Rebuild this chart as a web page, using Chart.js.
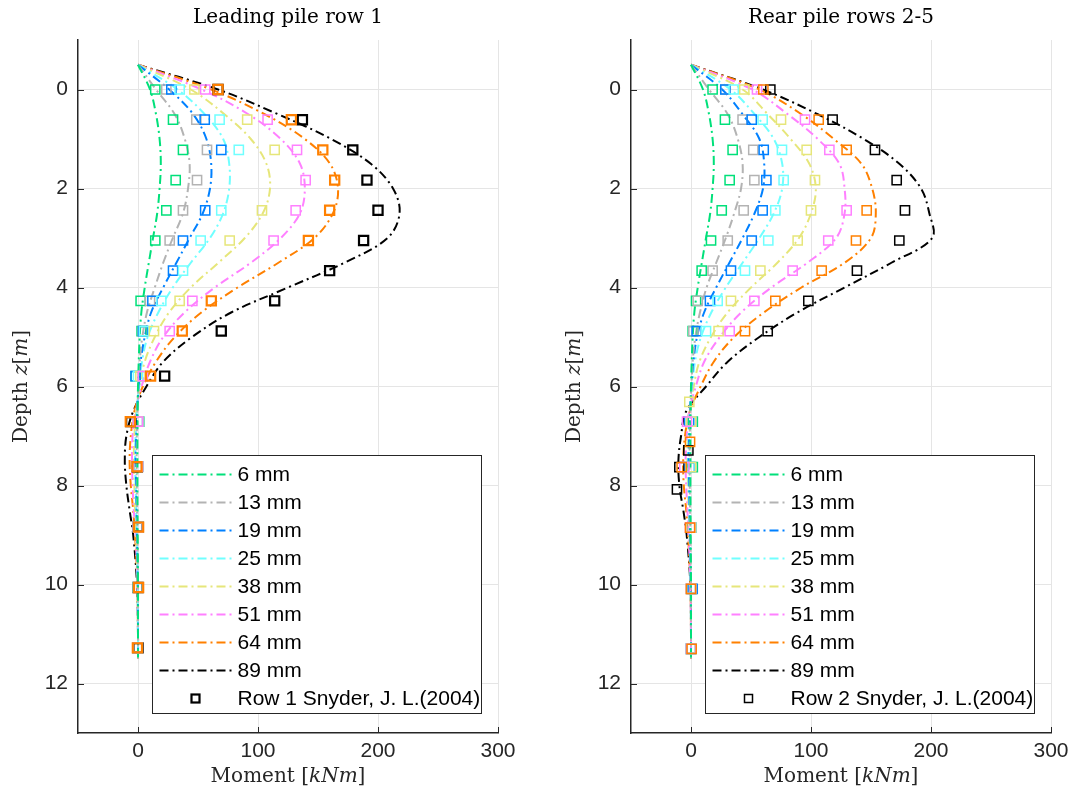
<!DOCTYPE html>
<html>
<head>
<meta charset="utf-8">
<script src="https://cdn.jsdelivr.net/npm/chart.js@4.4.0/dist/chart.umd.min.js"></script>
<style>
  body { margin: 0; background: #fff; width: 1077px; height: 801px; position: relative; overflow: hidden; }
  #leadChart { position: absolute; left: 0; top: 0; }
  #rearChart { position: absolute; left: 553px; top: 0; }
</style>
</head>
<body>
<canvas id="leadChart" width="538" height="801"></canvas>
<canvas id="rearChart" width="524" height="801"></canvas>
<script>
// axis ticks
const xTicks = [0, 100, 200, 300];
const yTicks = [0, 2, 4, 6, 8, 10, 12];

// series names and colours
const sizeLabels = ['6 mm', '13 mm', '19 mm', '25 mm', '38 mm', '51 mm', '64 mm', '89 mm'];
const seriesColors = ['#00e07a', '#b3b3b3', '#0080ff', '#70ffff', '#e6e67a', '#ff80ff', '#ff8000', '#000000'];

// depths (m) of the computed curves
const depthCurve = [-0.5, 0, 0.5, 1, 1.5, 2, 2.5, 3, 3.5, 4, 4.5, 5, 5.5, 6, 6.5, 7, 7.5, 8, 8.5, 9, 10, 11, 11.5];

// leading pile row 1 - computed moment (kNm)
const leadCurve6  = [0, 10, 15, 18, 19, 18, 16, 12.5, 9, 5.6, 2.8, 1.4, 0.6, 0, -0.3, -0.5, -0.5, -0.5, -0.4, -0.3, 0, 0, 0];
const leadCurve13 = [0, 15, 30.6, 39, 43, 41.7, 37.5, 29, 21, 14, 7.5, 3.6, 1.4, 0.3, -0.5, -1, -1.2, -1, -0.8, -0.5, 0, 0, 0];
const leadCurve19 = [0, 26, 46, 57, 61, 60, 54, 43, 32, 21, 11, 5.6, 2.2, 0.5, -0.8, -1.5, -2, -1.5, -1.2, -0.8, -0.2, 0, 0];
const leadCurve25 = [0, 33, 55.6, 71, 76, 76, 71, 60, 44, 29, 17, 8, 3.3, 1, -1, -2, -2.5, -2, -1.5, -1, -0.3, 0, 0];
const leadCurve38 = [0, 44, 72, 94, 107, 110, 104, 89, 67, 44, 26, 14, 5.6, 1.4, -1.5, -3, -3.5, -3, -2.5, -1.5, -0.5, 0, 0];
const leadCurve51 = [0, 53, 92, 119, 135, 139, 135, 119, 94, 64, 39, 21, 10, 3, -2, -4.5, -5, -4.5, -3.5, -2, -0.5, 0, 0];
const leadCurve64 = [0, 61, 105.6, 139, 160, 166.7, 162.5, 147, 117, 83, 53, 30.6, 15, 4, -3, -6, -7, -6, -4, -2.5, -0.5, 0, 0];
const leadCurve89 = [0, 66.7, 116.7, 161, 194, 212.5, 218, 208, 172, 125, 78, 45, 21, 7, -4, -9.7, -11, -9.7, -7, -4, -0.8, 0, 0];

// rear pile rows 2-5 - computed moment (kNm)
const rearCurve6  = [0, 10, 15, 18, 19, 18, 16, 12.5, 9, 5.6, 2.8, 1.4, 0.6, 0, -0.3, -0.5, -0.5, -0.5, -0.4, -0.3, 0, 0, 0];
const rearCurve13 = [0, 15, 30.6, 39, 43, 41.7, 36, 29, 21, 13, 7.5, 3.6, 1.4, 0.3, -0.5, -1, -1.2, -1, -0.8, -0.5, 0, 0, 0];
const rearCurve19 = [0, 26, 43, 57, 61, 60, 53, 43, 32, 21, 11, 5, 2, 0.3, -0.8, -1.5, -2, -1.5, -1.2, -0.8, -0.2, 0, 0];
const rearCurve25 = [0, 33, 53, 69, 76, 76, 69, 57, 43, 29, 17, 8.3, 3.3, 1, -1, -2, -2.5, -2, -1.5, -1, -0.3, 0, 0];
const rearCurve38 = [0, 43, 64, 83, 98.6, 104, 100, 90, 72, 50, 30.6, 16.7, 7, 2.2, -1, -2.5, -3, -2.5, -2, -1.2, -0.4, 0, 0];
const rearCurve51 = [0, 51, 80.6, 105.6, 123.6, 128, 128, 121, 97, 67, 42, 24, 11, 4, -1.5, -3.5, -4.5, -4, -3, -2, -0.5, 0, 0];
const rearCurve64 = [0, 57, 92, 119, 142, 151, 154, 150, 128, 92, 61, 36, 19, 8, -1, -5, -6.5, -6, -4, -2.5, -0.5, 0, 0];
const rearCurve89 = [0, 60, 105.6, 144, 173.6, 191.7, 198.6, 201, 167, 128, 89, 57, 30.6, 12.5, -4, -8.3, -10.5, -9.7, -6.4, -3.6, -0.5, 0, 0];

// measured points, Snyder J. L. (2004) - depths (m)
const leadDepthPts = [0, 0.61, 1.22, 1.83, 2.44, 3.05, 3.66, 4.27, 4.88, 5.79, 6.71, 7.62, 8.84, 10.06, 11.28];
const rearDepthPts = [0, 0.61, 1.22, 1.83, 2.44, 3.05, 3.66, 4.27, 4.88, 6.31, 6.71, 7.12, 7.29, 7.63, 8.08, 8.85, 10.09, 11.3];

// measured moments, leading row (kNm)
const leadPts6  = [14.4, 29.2, 37.5, 31.4, 23.6, 14.4, null, 2.2, 3, -2, 1, 0, 0.5, 0.5, -0.5];
const leadPts13 = [23.6, 48.6, 57.5, 49.2, 37.5, 26.4, null, 10, 4, 4, 0.6, 0, 0.5, 0.5, -0.5];
const leadPts19 = [27.8, 55.6, 69.4, null, 56, 37.5, 29.2, 12, 4.2, -2, 0, 0, 0, 0, -0.5];
const leadPts25 = [34.7, 68, 84, null, 69.4, 52.2, 37.5, 19.4, 5, 0, 0, 0, 0, 0, -0.5];
const leadPts38 = [47, 91, 113.9, null, 103.3, 76.4, null, 34.7, 13.3, 2, 0, 0, 0, 0, -0.5];
const leadPts51 = [56, 108, 132.5, 139.7, 131.4, 113, null, 45.3, 26.4, 4, 0, 0, 0, 0.5, -0.5];
const leadPts64 = [66.7, 127.8, 154, 163.9, 159.7, 142, null, 61.1, 36.9, 10.5, -6.4, -0.8, 0.5, 0.5, -0.5];
const leadPts89 = [66.7, 137, 179, 190.8, 200, 188, 159.7, 113.9, 69.4, 22.2, -6, -0.5, 0, 0, 0];

// measured moments, rear row (kNm)
const rearPts6  = [18, 28.3, 34.7, 32.2, 25.6, 16.7, 8.9, 4.2, 1.4, null, 1.5, null, null, 1.5, null, 0, 0.5, 0];
const rearPts13 = [28.6, 43, 51.9, 52.8, 43.9, 30.6, 18, 5.6, 2, null, 0.5, null, null, 0, null, 0, 0, 0];
const rearPts19 = [28.6, 50.6, 60.6, 62.8, 59.7, 50.6, 33.3, 15.8, 4.7, null, -1.5, null, null, -1, null, 0, 1.4, 0];
const rearPts25 = [35.6, 59.7, 75.8, 77.2, 70.3, 64.4, 45, 22.2, 12.5, null, 0, null, null, -0.5, null, 0, 0, 0];
const rearPts38 = [44.4, 75, 96.4, 103.3, 100, 88.9, 57.8, 33.3, 23, -1.4, 0, null, null, 0, null, 0, 0, 0];
const rearPts51 = [55, 95, 115.3, null, 129.7, 114.4, 84.7, 52.8, 32.2, null, -3.3, null, null, -5.6, null, -0.8, 0, 0];
const rearPts64 = [60.3, 106.4, 129.7, null, 146.4, 137.5, 108.9, 70.3, 45, null, null, -0.8, null, -7.8, null, -0.8, 0, 0.5];
const rearPts89 = [66.1, 118, 153.3, 171.4, 178.3, 173.6, 138.3, 97.8, 63.9, null, null, null, -2.2, -9.7, -11.7, null, null, null];

const leadCurves = [leadCurve6, leadCurve13, leadCurve19, leadCurve25, leadCurve38, leadCurve51, leadCurve64, leadCurve89];
const rearCurves = [rearCurve6, rearCurve13, rearCurve19, rearCurve25, rearCurve38, rearCurve51, rearCurve64, rearCurve89];
const leadPts = [leadPts6, leadPts13, leadPts19, leadPts25, leadPts38, leadPts51, leadPts64, leadPts89];
const rearPts = [rearPts6, rearPts13, rearPts19, rearPts25, rearPts38, rearPts51, rearPts64, rearPts89];

const axisColor = '#262626';
const dashDot = [9, 4, 2, 4];
const serifFont = '"DejaVu Serif", serif';

// axis labels, split in upright / italic pieces (the original used LaTeX)
const xLabelParts = [['Moment ', false], ['[', false], ['kNm', true], [']', false]];
const yLabelParts = [['Depth ', false], ['z', true], ['[', false], ['m', true], [']', false]];

function xy(depths, vals) {
    const out = [];
    vals.forEach((v, i) => {
        if (v !== null) out.push({ x: v, y: depths[i] });
    });
    return out;
}

function buildDatasets(curves, pts, ptDepths, markerLabel, boldMarkers) {
    const ds = [];
    pts.forEach((p, i) => {
        const last = i === pts.length - 1;
        ds.push({
            label: last ? markerLabel : '',
            inLegend: last,
            isMarker: true,
            data: xy(ptDepths, p),
            showLine: false,
            pointStyle: 'rect',
            pointRadius: 6.5,
            borderColor: seriesColors[i],
            pointBorderColor: seriesColors[i],
            backgroundColor: 'rgba(0,0,0,0)',
            pointBackgroundColor: 'rgba(0,0,0,0)',
            pointBorderWidth: boldMarkers.includes(i) ? 2.2 : 1.5,
            // lower order is drawn on top: orange over the rest, black at the bottom
            order: last ? 12 : 10 - i
        });
    });
    curves.forEach((c, i) => {
        ds.push({
            label: sizeLabels[i],
            inLegend: true,
            data: xy(depthCurve, c),
            showLine: true,
            borderColor: seriesColors[i],
            borderWidth: 2,
            borderDash: dashDot,
            pointRadius: 0,
            tension: 0.35,
            order: 20
        });
    });
    return ds;
}

// small tick marks pointing into the axes
const innerTicks = {
    id: 'innerTicks',
    beforeDatasetsDraw(chart) {
        const { ctx, chartArea: ca, scales } = chart;
        ctx.save();
        ctx.strokeStyle = axisColor;
        ctx.lineWidth = 1;
        ctx.beginPath();
        scales.y.ticks.forEach(t => {
            const py = Math.round(scales.y.getPixelForValue(t.value)) + 0.5;
            ctx.moveTo(ca.left, py);
            ctx.lineTo(ca.left + 6, py);
        });
        scales.x.ticks.forEach(t => {
            const px = Math.round(scales.x.getPixelForValue(t.value)) + 0.5;
            ctx.moveTo(px, ca.bottom);
            ctx.lineTo(px, ca.bottom - 6);
        });
        ctx.stroke();
        ctx.restore();
    }
};

function drawParts(ctx, parts, size) {
    // draws the pieces centred on (0,0)
    const fontOf = it => (it ? 'italic ' : '') + size + 'px ' + serifFont;
    let total = 0;
    parts.forEach(([t, it]) => { ctx.font = fontOf(it); total += ctx.measureText(t).width; });
    let x = -total / 2;
    parts.forEach(([t, it]) => {
        ctx.font = fontOf(it);
        ctx.fillText(t, x, 0);
        x += ctx.measureText(t).width;
    });
}

// axis titles with mixed upright / italic text
const axisTitles = {
    id: 'axisTitles',
    afterDraw(chart) {
        const { ctx, chartArea: ca } = chart;
        ctx.save();
        ctx.fillStyle = axisColor;
        ctx.textBaseline = 'middle';
        ctx.textAlign = 'left';
        ctx.save();
        ctx.translate((ca.left + ca.right) / 2, 777);
        drawParts(ctx, xLabelParts, 20);
        ctx.restore();
        ctx.save();
        ctx.translate(22, (ca.top + ca.bottom) / 2);
        ctx.rotate(-Math.PI / 2);
        drawParts(ctx, yLabelParts, 20);
        ctx.restore();
        ctx.restore();
    }
};

// legend box in the lower right of the axes
const boxLegend = {
    id: 'boxLegend',
    afterDatasetsDraw(chart) {
        const { ctx, chartArea: ca } = chart;
        const items = chart.data.datasets.filter(d => d.inLegend);
        items.sort((a, b) => (a.isMarker ? 1 : 0) - (b.isMarker ? 1 : 0));
        const rowH = 28;
        const left = Math.round(ca.left + 74) + 0.5;
        const right = Math.round(ca.right - 17) + 0.5;
        const bottom = Math.round(ca.bottom - 20) + 0.5;
        const top = bottom - (items.length * rowH + 6);

        ctx.save();
        ctx.fillStyle = '#fff';
        ctx.fillRect(left, top, right - left, bottom - top);
        ctx.strokeStyle = axisColor;
        ctx.lineWidth = 1;
        ctx.strokeRect(left, top, right - left, bottom - top);

        ctx.font = '21px "Liberation Sans", Arial, sans-serif';
        ctx.textBaseline = 'middle';
        ctx.textAlign = 'left';
        items.forEach((d, i) => {
            const y = top + 19 + i * rowH;
            if (d.isMarker) {
                ctx.setLineDash([]);
                ctx.strokeStyle = d.pointBorderColor;
                ctx.lineWidth = d.pointBorderWidth;
                ctx.strokeRect(left + 39, y - 4, 8, 8);
            } else {
                ctx.setLineDash(d.borderDash);
                ctx.strokeStyle = d.borderColor;
                ctx.lineWidth = d.borderWidth;
                ctx.beginPath();
                ctx.moveTo(left + 7, y);
                ctx.lineTo(left + 79, y);
                ctx.stroke();
            }
            ctx.fillStyle = '#000';
            ctx.fillText(d.label, left + 85, y + 1);
        });
        ctx.restore();
    }
};

function makeChart(canvasId, title, datasets, rightPad) {
    const ctx = document.getElementById(canvasId).getContext('2d');
    return new Chart(ctx, {
        type: 'scatter',
        data: { datasets: datasets },
        options: {
            responsive: false,
            animation: false,
            events: [],
            layout: { padding: { left: 0, right: rightPad, top: 0, bottom: 0 } },
            plugins: {
                legend: { display: false },
                tooltip: { enabled: false },
                title: {
                    display: true,
                    text: title,
                    fullSize: false,
                    color: '#000',
                    font: { family: serifFont, size: 20, weight: 'normal' },
                    padding: { top: 6, bottom: 10 }
                }
            },
            scales: {
                x: {
                    type: 'linear',
                    position: 'bottom',
                    min: -50,
                    max: 300,
                    afterBuildTicks: s => { s.ticks = xTicks.map(v => ({ value: v })); },
                    afterFit: s => { s.height = 68; },
                    grid: { color: '#e5e5e5', lineWidth: 1, drawTicks: false },
                    border: { display: true, color: axisColor, width: 1.5 },
                    ticks: {
                        color: axisColor,
                        padding: 6,
                        font: { family: '"Liberation Sans", Arial, sans-serif', size: 21 }
                    }
                },
                y: {
                    type: 'linear',
                    reverse: true,
                    min: -1,
                    max: 13,
                    afterBuildTicks: s => { s.ticks = yTicks.map(v => ({ value: v })); },
                    afterFit: s => { s.width = 78; },
                    grid: { color: '#e5e5e5', lineWidth: 1, drawTicks: false },
                    border: { display: true, color: axisColor, width: 1.5 },
                    ticks: {
                        color: axisColor,
                        padding: 10,
                        font: { family: '"Liberation Sans", Arial, sans-serif', size: 21 }
                    }
                }
            }
        },
        plugins: [innerTicks, boxLegend, axisTitles]
    });
}

makeChart('leadChart', 'Leading pile row 1',
    buildDatasets(leadCurves, leadPts, leadDepthPts, 'Row 1 Snyder, J. L.(2004)', [6, 7]), 40);
makeChart('rearChart', 'Rear pile rows 2-5',
    buildDatasets(rearCurves, rearPts, rearDepthPts, 'Row 2 Snyder, J. L.(2004)', []), 26);
</script>
</body>
</html>
